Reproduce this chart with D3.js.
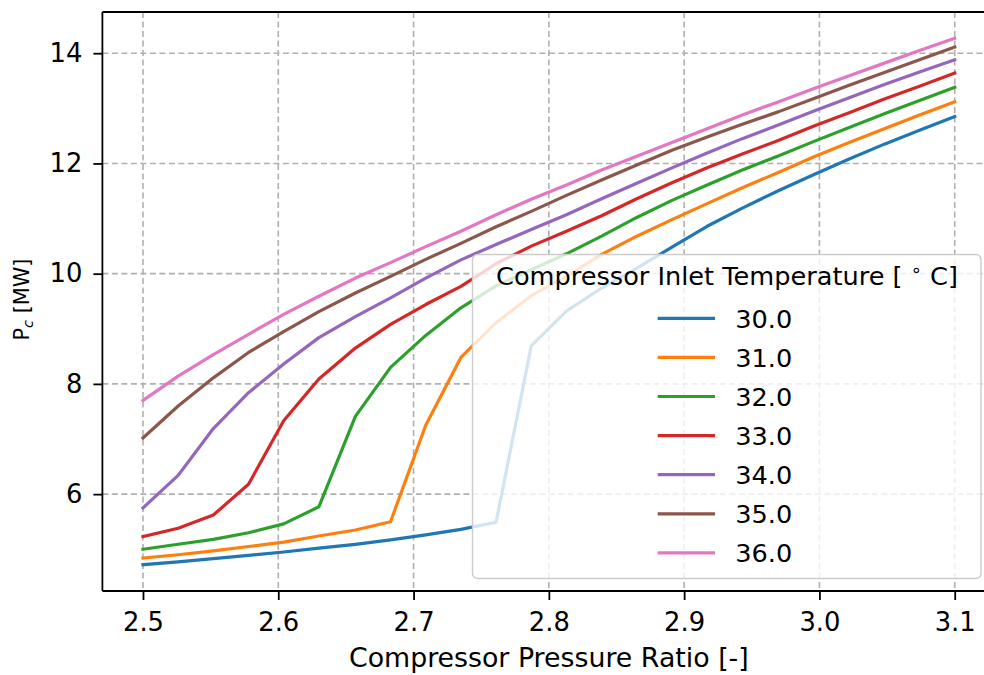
<!DOCTYPE html>
<html><head><meta charset="utf-8">
<script src="https://cdn.jsdelivr.net/npm/d3@7/dist/d3.min.js"></script>
<style>
body{margin:0;background:#fff}
svg{display:block}
text{font-family:"DejaVu Sans",sans-serif;fill:#000}
</style>
</head><body>
<svg id="chart" width="984" height="675"></svg>
<script>
// ---- data ----
const pressureRatio = [2.500, 2.526, 2.552, 2.578, 2.604, 2.630, 2.657, 2.683, 2.709, 2.735, 2.761, 2.787,
                       2.813, 2.839, 2.865, 2.891, 2.917, 2.943, 2.970, 2.996, 3.022, 3.048, 3.074, 3.100];
const inletTemps = ["30.0", "31.0", "32.0", "33.0", "34.0", "35.0", "36.0"];
const pc30 = [4.72, 4.77, 4.83, 4.89, 4.95, 5.02, 5.09, 5.17, 5.26, 5.36, 5.49, 8.69, 9.32, 9.74, 10.10, 10.48, 10.86, 11.19, 11.51, 11.80, 12.08, 12.35, 12.60, 12.85];
const pc31 = [4.84, 4.90, 4.97, 5.05, 5.13, 5.24, 5.35, 5.50, 7.25, 8.48, 9.11, 9.60, 9.95, 10.35, 10.68, 10.98, 11.27, 11.56, 11.84, 12.12, 12.38, 12.63, 12.88, 13.12];
const pc32 = [5.00, 5.09, 5.18, 5.30, 5.46, 5.77, 7.41, 8.30, 8.88, 9.38, 9.78, 10.07, 10.36, 10.68, 11.02, 11.33, 11.61, 11.88, 12.14, 12.40, 12.65, 12.90, 13.14, 13.38];
const pc33 = [5.23, 5.38, 5.62, 6.18, 7.33, 8.09, 8.65, 9.08, 9.44, 9.77, 10.18, 10.50, 10.77, 11.05, 11.36, 11.65, 11.92, 12.17, 12.42, 12.68, 12.92, 13.17, 13.40, 13.64];
const pc34 = [5.75, 6.34, 7.19, 7.84, 8.36, 8.84, 9.22, 9.56, 9.92, 10.25, 10.53, 10.80, 11.07, 11.36, 11.64, 11.92, 12.19, 12.45, 12.70, 12.95, 13.19, 13.43, 13.66, 13.88];
const pc35 = [7.02, 7.60, 8.11, 8.57, 8.95, 9.31, 9.65, 9.95, 10.26, 10.55, 10.85, 11.13, 11.42, 11.70, 11.97, 12.24, 12.48, 12.71, 12.94, 13.18, 13.42, 13.65, 13.88, 14.11];
const pc36 = [7.70, 8.14, 8.53, 8.90, 9.26, 9.59, 9.92, 10.20, 10.49, 10.77, 11.07, 11.35, 11.61, 11.88, 12.13, 12.38, 12.63, 12.88, 13.12, 13.36, 13.59, 13.82, 14.05, 14.27];
const seriesValues = [pc30, pc31, pc32, pc33, pc34, pc35, pc36];
const xTicks = [2.5, 2.6, 2.7, 2.8, 2.9, 3.0, 3.1];
const yTicks = [6, 8, 10, 12, 14];
const colors = ["#1f77b4", "#ff7f0e", "#2ca02c", "#d62728", "#9467bd", "#8c564b", "#e377c2"];

// ---- layout ----
const svg = d3.select("#chart");
const L = 102.4, R = 995.3, T = 12, B = 591;
const x = d3.scaleLinear().domain([2.47, 3.13]).range([L, R]);
const y = d3.scaleLinear().domain([4.2425, 14.7475]).range([B, T]);
const TFS = 25.8;   // tick labels
const LFS = 25.6;   // legend

// grid
const grid = svg.append("g");
grid.selectAll("line.gx").data(xTicks).join("line")
  .attr("x1", d => x(d)).attr("x2", d => x(d)).attr("y1", T).attr("y2", B)
  .attr("stroke", "#b0b0b0").attr("stroke-width", 1.6).attr("stroke-dasharray", "6,3.5");
grid.selectAll("line.gy").data(yTicks).join("line")
  .attr("y1", d => y(d)).attr("y2", d => y(d)).attr("x1", L).attr("x2", R)
  .attr("stroke", "#b0b0b0").attr("stroke-width", 1.6).attr("stroke-dasharray", "6,3.5");

// lines
const line = d3.line().x((d, i) => x(pressureRatio[i])).y(d => y(d));
svg.append("g").selectAll("path").data(seriesValues).join("path")
  .attr("d", line).attr("fill", "none")
  .attr("stroke", (d, i) => colors[i]).attr("stroke-width", 3.2)
  .attr("stroke-linejoin", "round").attr("stroke-linecap", "square");

// axes
const xAxis = d3.axisBottom(x).tickValues(xTicks).tickFormat(d3.format(".1f")).tickSize(9).tickPadding(13);
const yAxis = d3.axisLeft(y).tickValues(yTicks).tickFormat(d3.format("d")).tickSize(9).tickPadding(11);
const gx = svg.append("g").attr("transform", `translate(0,${B})`).call(xAxis);
const gy = svg.append("g").attr("transform", `translate(${L},0)`).call(yAxis);
[gx, gy].forEach(g => {
  g.select(".domain").remove();
  g.selectAll(".tick line").attr("stroke", "#000").attr("stroke-width", 1.8);
  g.selectAll(".tick text").attr("font-size", TFS).attr("font-family", "DejaVu Sans").attr("fill", "#000");
});

// spines
svg.append("line").attr("x1", L).attr("x2", L).attr("y1", T).attr("y2", B).attr("stroke", "#000").attr("stroke-width", 1.8);
svg.append("line").attr("x1", L).attr("x2", R).attr("y1", B).attr("y2", B).attr("stroke", "#000").attr("stroke-width", 1.8);
svg.append("line").attr("x1", L).attr("x2", R).attr("y1", T).attr("y2", T).attr("stroke", "#000").attr("stroke-width", 1.8);
svg.append("line").attr("x1", R).attr("x2", R).attr("y1", T).attr("y2", B).attr("stroke", "#000").attr("stroke-width", 1.8);

// axis labels
svg.append("text").attr("x", (L + R) / 2).attr("y", 666.5).attr("text-anchor", "middle")
  .attr("font-size", 26.8).text("Compressor Pressure Ratio [-]");
const YFS = 20.8;
const yl = svg.append("text").attr("transform", `translate(29,${(T + B) / 2 - 2}) rotate(-90)`)
  .attr("text-anchor", "middle").attr("font-size", YFS);
yl.append("tspan").text("P");
yl.append("tspan").attr("font-size", YFS * 0.7).attr("font-style", "italic").attr("dy", 4).text("c");
yl.append("tspan").attr("dy", -4).text(" [MW]");

// legend
const lg = svg.append("g");
lg.append("rect").attr("x", 472.5).attr("y", 254.5).attr("width", 508.5).attr("height", 324)
  .attr("rx", 5).attr("fill", "#fff").attr("fill-opacity", 0.8)
  .attr("stroke", "#cccccc").attr("stroke-width", 1.4);
const title = lg.append("text").attr("x", 727).attr("y", 285).attr("text-anchor", "middle").attr("font-size", LFS);
title.append("tspan").text("Compressor Inlet Temperature [ ");
title.append("tspan").attr("font-size", LFS * 0.7).attr("dy", -9).text("\u2218");
title.append("tspan").attr("dy", 9).text(" C]");
const items = lg.selectAll("g.item").data(inletTemps).join("g")
  .attr("transform", (d, i) => `translate(0,${318.3 + i * 39.1})`);
items.append("line").attr("x1", 657.7).attr("x2", 715).attr("y1", 0).attr("y2", 0)
  .attr("stroke", (d, i) => colors[i]).attr("stroke-width", 3.2);
items.append("text").attr("x", 735.3).attr("y", 9.3).attr("font-size", LFS).text(d => d);
</script>
</body></html>
